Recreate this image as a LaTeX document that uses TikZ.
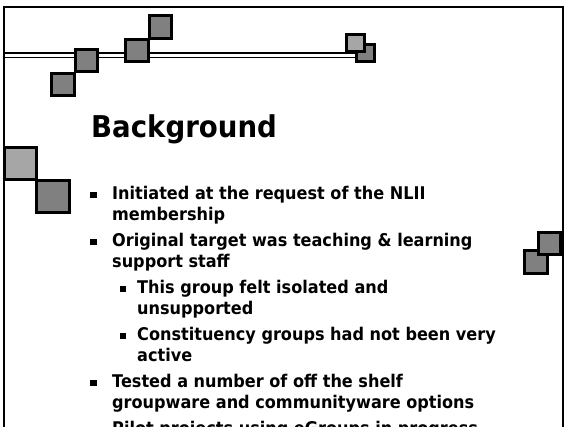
\documentclass[tikz,border=0pt]{standalone}
\usepackage{fontspec}
\newfontfamily\slidefont[FakeStretch=0.92]{DejaVu Sans}
\definecolor{sqdarkc}{RGB}{128,128,128}
\definecolor{sqlightc}{RGB}{166,166,166}
\tikzset{
  sq/.style={draw=black, line width=3pt, inner sep=0pt, outer sep=0pt, rectangle},
  sqdark/.style={sq, fill=sqdarkc},
  sqlight/.style={sq, fill=sqlightc},
  bodytxt/.style={anchor=base west, inner sep=0pt, font=\slidefont\bfseries\fontsize{17.5}{21}\selectfont},
  titletxt/.style={anchor=base west, inner sep=0pt, font=\slidefont\bfseries\fontsize{30}{36}\selectfont},
  bulletA/.style={fill=black, inner sep=0pt, minimum size=6.5pt, rectangle},
  bulletB/.style={fill=black, inner sep=0pt, minimum size=6pt, rectangle},
  frameline/.style={draw=black, line width=2pt},
  rule/.style={draw=black, line width=1.4pt}
}
\begin{document}
\begin{tikzpicture}[x=1pt,y=-1pt]
\useasboundingbox (0,0) rectangle (565,426);
\clip (0,0) rectangle (565,426);
\fill[white] (0,0) rectangle (565,426);
% frame
\draw[frameline] (4.3,445) -- (4.3,7) -- (563.3,7) -- (563.3,445);
% double rule
\coordinate (rl1) at (4.3,52.9);
\coordinate (rr1) at (360,52.9);
\coordinate (rl2) at (4.3,57.4);
\coordinate (rr2) at (360,57.4);
\draw[rule] (rl1) -- (rr1);
\draw[rule] (rl2) -- (rr2);
% squares
\node[sqdark, minimum size=22.5pt] (sqA) at (63,84.5) {};
\node[sqdark, minimum size=22.5pt] (sqB) at (86.5,60.5) {};
\node[sqdark, minimum size=22.5pt] (sqC) at (137,50.5) {};
\node[sqdark, minimum size=22.5pt] (sqD) at (160.5,27) {};
\node[sqdark, minimum size=17.5pt] (sqF) at (365.5,53) {};
\node[sqlight, minimum size=17.5pt] (sqE) at (355.5,43) {};
\node[sqlight, minimum size=31.5pt] (sqG) at (20.5,163.5) {};
\node[sqdark, minimum size=32.5pt] (sqH) at (53,196.3) {};
\node[sqdark, minimum size=23pt] (sqJ) at (535.5,262) {};
\node[sqdark, minimum size=22pt] (sqI) at (549.5,243) {};
% title
\node[titletxt] (title) at (91,137.5) {Background};
% bullets level 1
\node[bulletA] (b1) at (93.5,194.8) {};
\node[bodytxt] (t1a) at (112,199) {Initiated at the request of the NLII};
\node[bodytxt] (t1b) at (112,220) {membership};
\node[bulletA] (b2) at (93.5,241.8) {};
\node[bodytxt] (t2a) at (112,246) {Original target was teaching \& learning};
\node[bodytxt] (t2b) at (112,267) {support staff};
% level 2
\node[bulletB] (b3) at (123.3,288.8) {};
\node[bodytxt] (t3a) at (137,293) {This group felt isolated and};
\node[bodytxt] (t3b) at (137,314) {unsupported};
\node[bulletB] (b4) at (123.3,335.8) {};
\node[bodytxt] (t4a) at (137,340) {Constituency groups had not been very};
\node[bodytxt] (t4b) at (137,361) {active};
% level 1
\node[bulletA] (b5) at (93.5,382.8) {};
\node[bodytxt] (t5a) at (112,387) {Tested a number of off the shelf};
\node[bodytxt] (t5b) at (112,408) {groupware and communityware options};
\node[bulletA] (b6) at (93.5,429.8) {};
\node[bodytxt] (t6a) at (112,434) {Pilot projects using eGroups in progress};
\end{tikzpicture}
\end{document}
